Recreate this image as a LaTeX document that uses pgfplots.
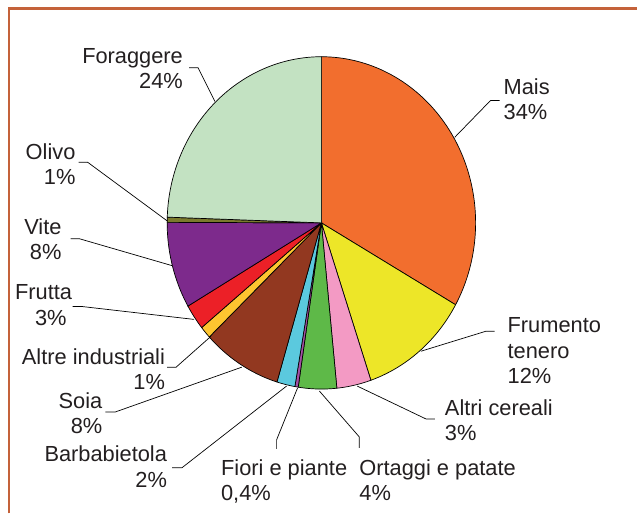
\documentclass[border=0pt]{standalone}
\usepackage{pgfplots}
\pgfplotsset{compat=1.18}
\usepackage{pgfplotstable}
\usepackage{fontspec}
\setmainfont{Liberation Sans}
\definecolor{slice0}{RGB}{242,110,46}
\definecolor{slice1}{RGB}{237,230,40}
\definecolor{slice2}{RGB}{243,154,196}
\definecolor{slice3}{RGB}{94,185,72}
\definecolor{slice4}{RGB}{165,80,165}
\definecolor{slice5}{RGB}{91,201,222}
\definecolor{slice6}{RGB}{146,56,32}
\definecolor{slice7}{RGB}{253,197,48}
\definecolor{slice8}{RGB}{236,32,39}
\definecolor{slice9}{RGB}{125,42,140}
\definecolor{slice10}{RGB}{123,122,44}
\definecolor{slice11}{RGB}{195,226,194}
\definecolor{frame}{RGB}{196,98,58}
\definecolor{txt}{RGB}{35,31,32}
\pgfplotstableread{
name value
Mais 33.2
Frumento 11.6
Altricereali 3.6
Ortaggi 4.0
Fiori 0.35
Barbabietola 1.9
Soia 8.3
Altreindustriali 1.2
Frutta 2.5
Vite 8.4
Olivo 0.5
Foraggere 24.45
}\piedata
\begin{document}
\begin{tikzpicture}
\begin{scope}[x=1bp,y=-1bp]
\path[use as bounding box] (0,0) rectangle (638,516);
\end{scope}
\begin{axis}[at={(323bp,-224bp)}, anchor=origin, x=155bp, y=167bp,
  xmin=-1.05, xmax=1.05, ymin=-1.05, ymax=1.05, hide axis, clip=false]
\pgfplotstablegetrowsof{\piedata}
\pgfmathtruncatemacro\nrows{\pgfplotsretval-1}
\gdef\cum{0}
\pgfplotsforeachungrouped \i in {0,...,\nrows}{%
  \pgfplotstablegetelem{\i}{value}\of\piedata
  \let\val\pgfplotsretval
  \pgfmathsetmacro\a{90-3.6*\cum}%
  \pgfmathsetmacro\cumnew{\cum+\val}%
  \pgfmathsetmacro\b{90-3.6*\cumnew}%
  \xdef\cum{\cumnew}%
  \edef\temp{\noexpand\addplot[fill=slice\i, draw=black, line width=0.7bp, domain=\b:\a, samples=80] ({cos(x)},{sin(x)}) -- (axis cs:0,0) -- cycle;}%
  \temp
}
\end{axis}
\begin{scope}[x=1bp,y=-1bp]
\draw[frame, line width=2.4bp] (9,516) -- (9,8.5) -- (640,8.5);
\begin{scope}[black, line width=0.7bp]
\draw (502,101) -- (493,101) -- (457,138);
\draw (497,333) -- (488,333) -- (423,353);
\draw (437,421) -- (428,421) -- (359,388);
\draw (361,450) -- (361,439) -- (321,393);
\draw (278,451) -- (278,442) -- (299,390);
\draw (173,470) -- (183,470) -- (288,388);
\draw (106,414) -- (116,414) -- (243,369);
\draw (168,369) -- (177,369) -- (212,338);
\draw (73,308) -- (82,308) -- (195,321);
\draw (71,240) -- (80,240) -- (173,267);
\draw (79,163) -- (88,163) -- (168,222);
\draw (190,68) -- (199,68) -- (216,102);
\end{scope}
\begin{scope}[every node/.style={inner sep=0pt, text=txt, font=\fontsize{22}{25.5}\selectfont}]
\node[anchor=west, align=left] at (506,99.5) {Mais\\34\%};
\node[anchor=west, align=left] at (510,352.5) {Frumento\\tenero\\12\%};
\node[anchor=west, align=left] at (447,422) {Altri cereali\\3\%};
\node[anchor=west, align=left] at (361,482.5) {Ortaggi e patate\\4\%};
\node[anchor=west, align=left] at (222,484) {Fiori e piante\\0,4\%};
\node[anchor=east, align=right] at (168,469) {Barbabietola\\2\%};
\node[anchor=east, align=right] at (103,415) {Soia\\8\%};
\node[anchor=east, align=right] at (166,371) {Altre industriali\\1\%};
\node[anchor=west] at (15,294) {Frutta};
\node[anchor=west] at (35,320) {3\%};
\node[anchor=east, align=right] at (62,240.5) {Vite\\8\%};
\node[anchor=east, align=right] at (76,165) {Olivo\\1\%};
\node[anchor=east, align=right] at (184,69) {Foraggere\\24\%};
\end{scope}
\end{scope}
\end{tikzpicture}
\end{document}
